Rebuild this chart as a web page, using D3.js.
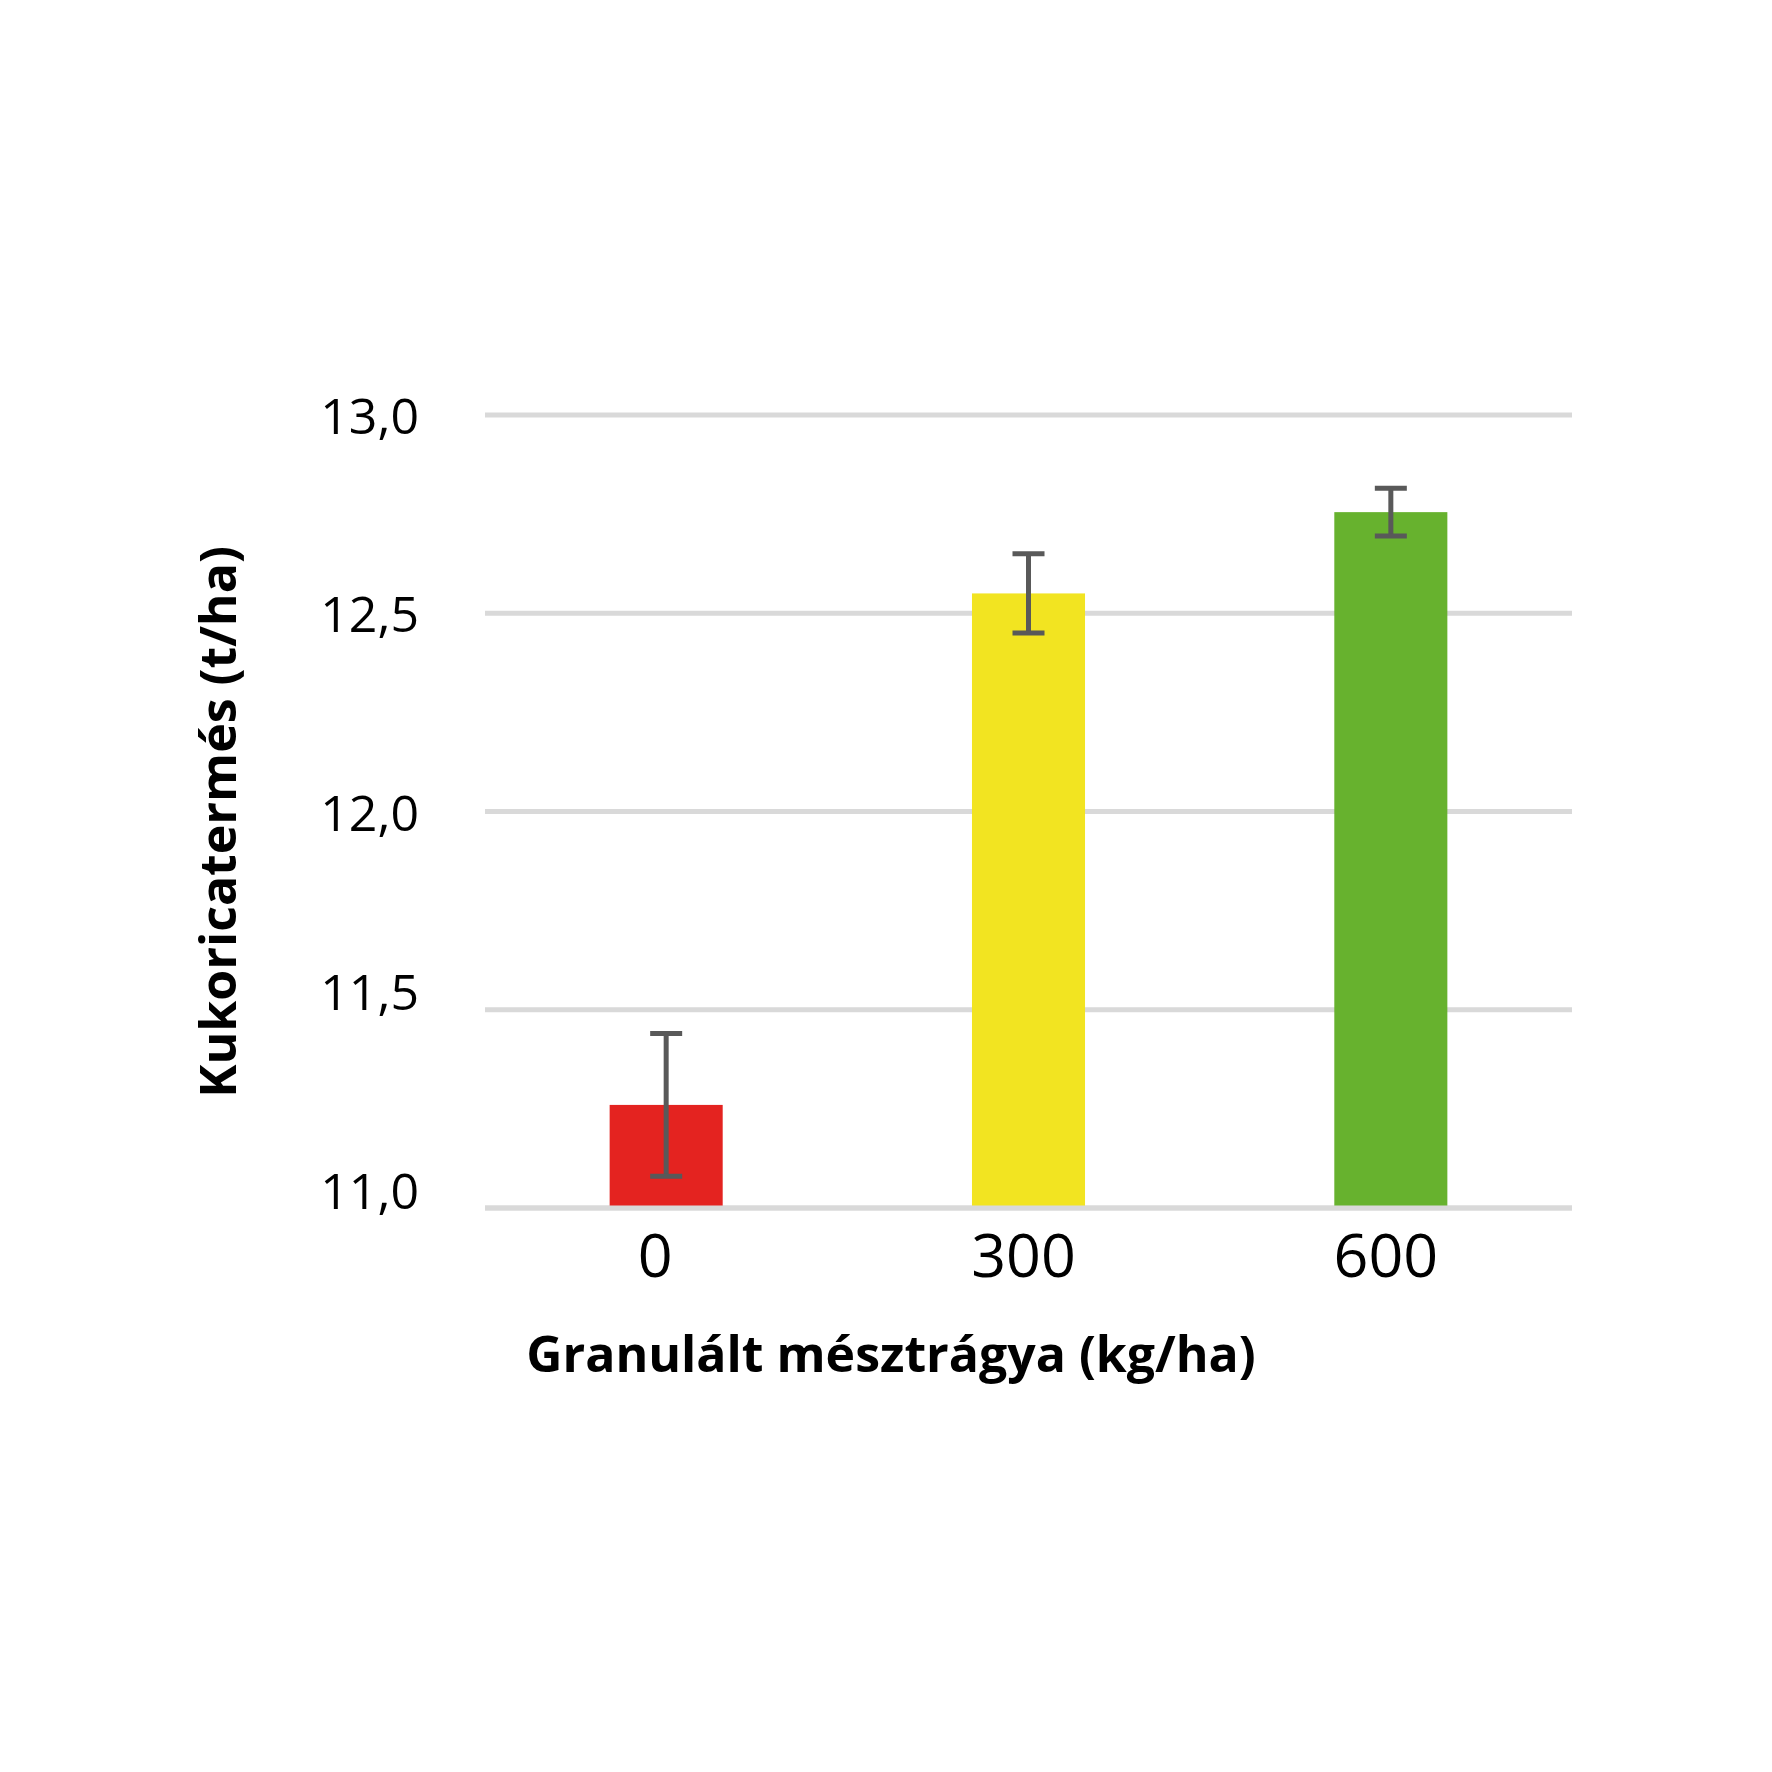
<!DOCTYPE html>
<html>
<head>
<meta charset="utf-8">
<script src="https://cdn.jsdelivr.net/npm/d3@7"></script>
<style>
  html, body { margin: 0; padding: 0; background: #ffffff; }
  svg { display: block; }
  text { font-family: "Open Sans", "Noto Sans", sans-serif; fill: #000; }
</style>
</head>
<body>
<svg id="chart" width="1772" height="1772"></svg>
<script>
// ---- data ----
const categories = ["0", "300", "600"];
const yields = [11.26, 12.55, 12.755];
const errors = [0.18, 0.10, 0.06];
const barColors = ["#e42320", "#f2e421", "#67b22e"];
const yTicks = [11.0, 11.5, 12.0, 12.5, 13.0];
const yTickLabels = ["11,0", "11,5", "12,0", "12,5", "13,0"];
const xTitle = "Granulált mésztrágya (kg/ha)";
const yTitle = "Kukoricatermés (t/ha)";

// ---- layout ----
const plot = { left: 485, right: 1572, top: 415, bottom: 1208 };
const svg = d3.select("#chart");

const x = d3.scaleBand()
  .domain(categories)
  .range([plot.left, plot.right])
  .paddingInner(0.688)
  .paddingOuter(0.344);

const y = d3.scaleLinear()
  .domain([11, 13])
  .range([plot.bottom, plot.top]);

// gridlines
const grid = svg.append("g");
grid.selectAll("line")
  .data(yTicks)
  .join("line")
  .attr("x1", plot.left)
  .attr("x2", plot.right)
  .attr("y1", d => y(d))
  .attr("y2", d => y(d))
  .attr("stroke", "#d9d9d9")
  .attr("stroke-width", 5);

// y tick labels
const yAxis = d3.axisLeft(y)
  .tickValues(yTicks)
  .tickFormat((d, i) => yTickLabels[i])
  .tickSize(0)
  .tickPadding(0);
const yg = svg.append("g")
  .attr("transform", `translate(419,0)`)
  .call(yAxis);
yg.select(".domain").remove();
yg.selectAll("text")
  .attr("font-size", 50)
  .attr("font-family", "'Open Sans', sans-serif")
  .attr("fill", "#000")
  .attr("dy", d => d < 12 ? "0em" : "0.37em");

// bars
const data = categories.map((c, i) => ({ c, v: yields[i], e: errors[i], col: barColors[i] }));
svg.append("g").selectAll("rect")
  .data(data)
  .join("rect")
  .attr("x", d => x(d.c))
  .attr("width", x.bandwidth())
  .attr("y", d => y(d.v))
  .attr("height", d => y(11) - y(d.v))
  .attr("fill", d => d.col);

// baseline on top
svg.append("line")
  .attr("x1", plot.left).attr("x2", plot.right)
  .attr("y1", y(11)).attr("y2", y(11))
  .attr("stroke", "#d9d9d9").attr("stroke-width", 5);

// error bars
const eb = svg.append("g").attr("stroke", "#595959").attr("stroke-width", 5);
data.forEach(d => {
  const cx = x(d.c) + x.bandwidth() / 2;
  eb.append("line").attr("x1", cx).attr("x2", cx)
    .attr("y1", y(d.v + d.e)).attr("y2", y(d.v - d.e));
  [d.v + d.e, d.v - d.e].forEach(v => {
    eb.append("line").attr("x1", cx - 16).attr("x2", cx + 16)
      .attr("y1", y(v)).attr("y2", y(v));
  });
});

// x tick labels
const xAxis = d3.axisBottom(x).tickSize(0).tickPadding(0);
const xg = svg.append("g")
  .attr("transform", `translate(-5,${1277})`)
  .call(xAxis);
xg.select(".domain").remove();
xg.selectAll("text")
  .attr("font-size", 61)
  .attr("font-family", "'Open Sans', sans-serif")
  .attr("fill", "#000")
  .attr("dy", 0)
  .attr("y", 0)
  .attr("dx", (d, i) => i === 0 ? -6 : 0);

// axis titles
svg.append("text")
  .attr("x", 891)
  .attr("y", 1372)
  .attr("text-anchor", "middle")
  .attr("font-size", 50)
  .attr("font-weight", 700)
  .text(xTitle);

svg.append("text")
  .attr("transform", `translate(236,822) rotate(-90)`)
  .attr("text-anchor", "middle")
  .attr("font-size", 50)
  .attr("font-weight", 700)
  .text(yTitle);
</script>
</body>
</html>
